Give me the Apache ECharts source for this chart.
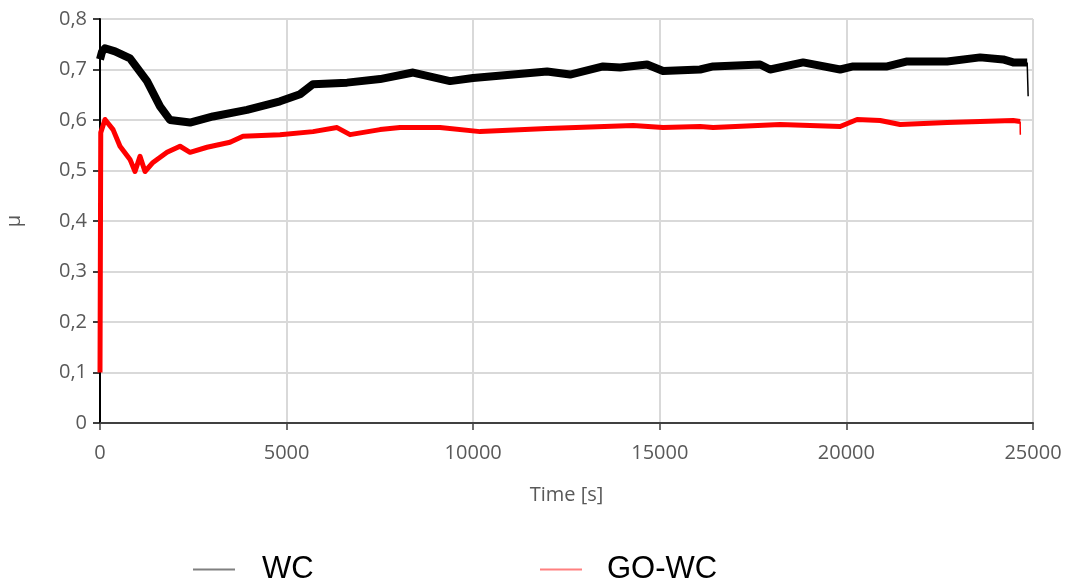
<!DOCTYPE html>
<html>
<head>
<meta charset="utf-8">
<script src="https://cdn.jsdelivr.net/npm/echarts@6/dist/echarts.min.js"></script>
<style>
  html, body { margin: 0; padding: 0; background: #fff; }
  #chart { width: 1075px; height: 583px; }
</style>
</head>
<body>
<div id="chart"></div>
<script>
// values
const timeWC = [0, 54, 134, 402, 804, 1260, 1608, 1876, 2412, 3028, 3940, 4824, 5360, 5708, 6620,
  7504, 8388, 9380, 9996, 11068, 11980, 12596, 13480, 13936, 14660, 15088, 16080, 16428, 17688,
  17956, 18840, 19832, 20180, 21092, 21628, 22700, 23584, 24200, 24468, 24844, 24870];
const muWC = [0.72, 0.735, 0.742, 0.736, 0.722, 0.677, 0.627, 0.600, 0.595, 0.607, 0.620, 0.637, 0.651,
  0.671, 0.674, 0.681, 0.694, 0.677, 0.683, 0.690, 0.696, 0.690, 0.706, 0.704, 0.710, 0.697, 0.700,
  0.706, 0.710, 0.700, 0.714, 0.700, 0.706, 0.706, 0.716, 0.716, 0.724, 0.720, 0.714, 0.714, 0.647];

const timeGO = [0, 20, 134, 350, 536, 804, 938, 1072, 1206, 1420, 1796, 2144, 2412, 2868, 3484, 3832,
  4824, 5708, 6352, 6700, 7504, 8040, 9112, 10184, 11980, 14284, 15088, 16080, 16428, 18224, 19832,
  20288, 20904, 21440, 22700, 24468, 24656, 24660];
const muGO = [0.10, 0.575, 0.601, 0.581, 0.548, 0.522, 0.498, 0.528, 0.498, 0.516, 0.536, 0.548, 0.536,
  0.546, 0.556, 0.568, 0.571, 0.577, 0.585, 0.571, 0.581, 0.585, 0.585, 0.577, 0.583, 0.589, 0.585,
  0.587, 0.585, 0.591, 0.587, 0.601, 0.599, 0.591, 0.595, 0.599, 0.597, 0.571];

const xTicks = [0, 5000, 10000, 15000, 20000, 25000];
const yTicks = ['0', '0,1', '0,2', '0,3', '0,4', '0,5', '0,6', '0,7', '0,8'];

const pairs = (xs, ys) => xs.map((x, i) => [x, ys[i]]);
const wc = pairs(timeWC, muWC);
const go = pairs(timeGO, muGO);

const chart = echarts.init(document.getElementById('chart'));
const labelFont = 'Open Sans';
const labelColor = '#595959';
const gridColor = '#d9d9d9';

chart.setOption({
  animation: false,
  grid: { left: 100, right: 42, top: 19, bottom: 160, outerBoundsMode: 'none' },
  xAxis: {
    type: 'value',
    min: 0,
    max: xTicks[xTicks.length - 1],
    interval: 5000,
    name: 'Time [s]',
    nameLocation: 'middle',
    nameGap: 62,
    nameTextStyle: { color: labelColor, fontFamily: labelFont, fontSize: 20 },
    axisLine: { lineStyle: { color: '#404040', width: 2 } },
    axisTick: { show: true, length: 7, lineStyle: { color: '#404040', width: 1.5 } },
    axisLabel: { color: labelColor, fontFamily: labelFont, fontSize: 20, margin: 20, formatter: v => String(v) },
    splitLine: { show: true, lineStyle: { color: gridColor, width: 2 } }
  },
  yAxis: {
    type: 'value',
    min: 0,
    max: 0.8,
    interval: 0.1,
    name: 'μ',
    nameLocation: 'middle',
    nameGap: 76,
    nameRotate: 90,
    nameTextStyle: { color: labelColor, fontFamily: labelFont, fontSize: 20 },
    axisLine: { show: true, lineStyle: { color: '#000', width: 2 } },
    axisTick: { show: true, length: 7, lineStyle: { color: '#000', width: 1.5 } },
    axisLabel: {
      color: labelColor, fontFamily: labelFont, fontSize: 20, margin: 13,
      formatter: v => yTicks[Math.round(v * 10)]
    },
    splitLine: { lineStyle: { color: gridColor, width: 2 } }
  },
  legend: [
    {
      left: 188, top: 549,
      icon: 'rect', itemWidth: 42, itemHeight: 2,
      textStyle: { color: '#000', fontFamily: 'Liberation Sans', fontSize: 31, padding: [0, 0, 0, 22] },
      data: [{ name: 'WC', itemStyle: { color: '#808080' } }]
    },
    {
      left: 535, top: 549,
      icon: 'rect', itemWidth: 42, itemHeight: 2,
      textStyle: { color: '#000', fontFamily: 'Liberation Sans', fontSize: 31, padding: [0, 0, 0, 20] },
      data: [{ name: 'GO-WC', itemStyle: { color: '#ff8080' } }]
    }
  ],
  series: [
    {
      name: 'GO-WC',
      type: 'line',
      showSymbol: false,
      data: go.slice(0, -1),
      lineStyle: { color: '#ff0000', width: 5, join: 'round' },
      itemStyle: { color: '#ff0000' },
      z: 3
    },
    {
      // thin drop at the end of the run
      name: 'GO-WC end',
      type: 'line',
      showSymbol: false,
      data: go.slice(-2),
      lineStyle: { color: '#ff0000', width: 1.5 },
      z: 3
    },
    {
      name: 'WC',
      type: 'line',
      showSymbol: false,
      data: wc.slice(0, -1),
      lineStyle: { color: '#000', width: 8, join: 'round' },
      itemStyle: { color: '#000' },
      z: 4
    },
    {
      name: 'WC end',
      type: 'line',
      showSymbol: false,
      data: wc.slice(-2),
      lineStyle: { color: '#000', width: 1.5 },
      z: 4
    }
  ]
});
</script>
</body>
</html>
